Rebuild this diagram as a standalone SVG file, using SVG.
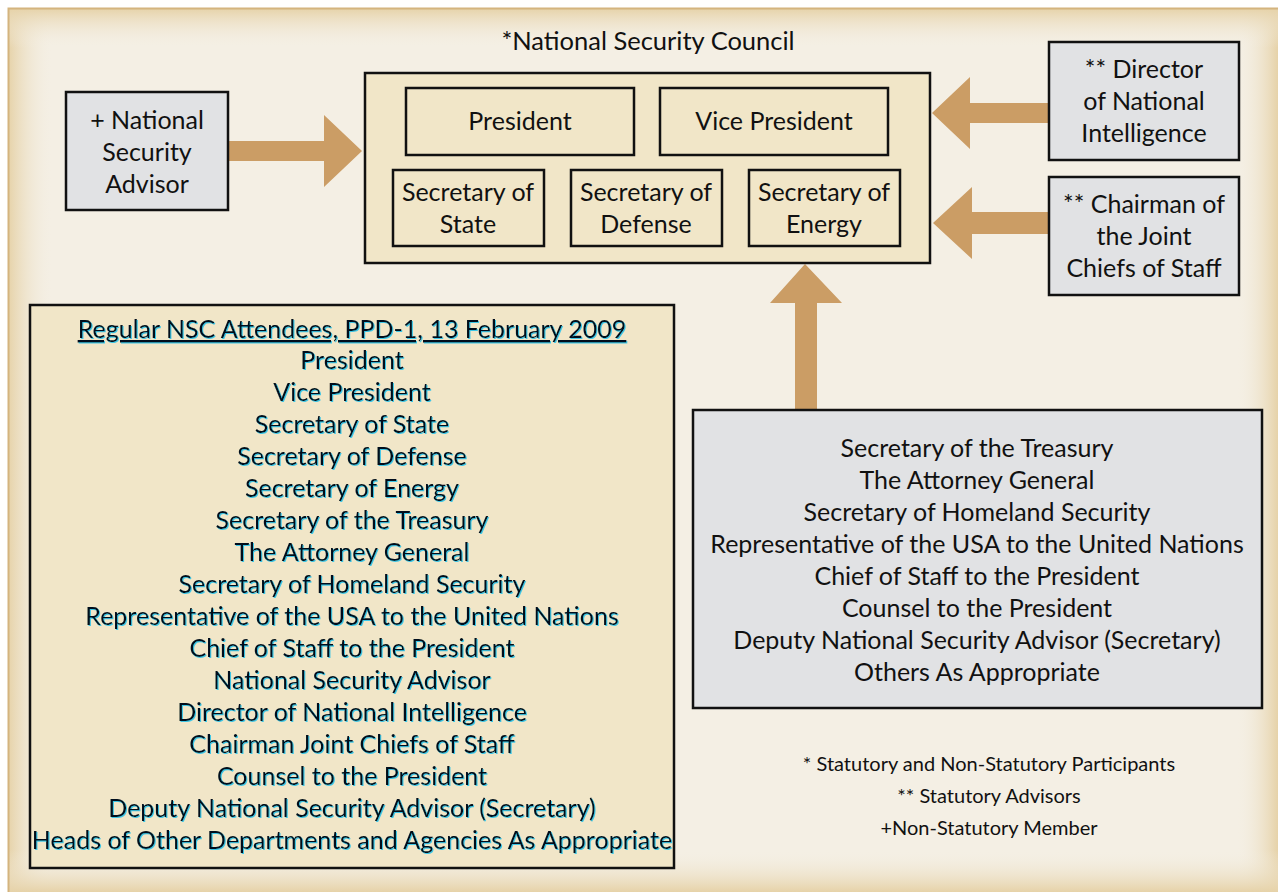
<svg xmlns="http://www.w3.org/2000/svg" width="1278" height="892" viewBox="0 0 1278 892">
<style>
text{font-family:Lato,"Open Sans","Liberation Sans",sans-serif;fill:#111;text-anchor:middle}
.t{font-size:25px}
.h{font-size:25.5px}
.f{font-size:20px}
.l{font-size:25px;fill:#04101a;filter:url(#glow)}
.nsc{fill:#f1e6c8;stroke:#111;stroke-width:2.5}
.gray{fill:#e1e2e4;stroke:#111;stroke-width:2.5}
.arrow{fill:#cb9d65}
</style>
<defs>
<filter id="glow" x="-5%" y="-30%" width="110%" height="160%">
<feDropShadow dx="1" dy="1" stdDeviation="0.3" flood-color="#3ec6e6" flood-opacity="1"/>
</filter>
<linearGradient id="gl" x1="0" y1="0" x2="1" y2="0"><stop offset="0" stop-color="#e6d2a8"/><stop offset="1" stop-color="#f4efe4" stop-opacity="0"/></linearGradient>
<linearGradient id="gr" x1="1" y1="0" x2="0" y2="0"><stop offset="0" stop-color="#e6d2a8"/><stop offset="1" stop-color="#f4efe4" stop-opacity="0"/></linearGradient>
<linearGradient id="gt" x1="0" y1="0" x2="0" y2="1"><stop offset="0" stop-color="#e6d2a8"/><stop offset="1" stop-color="#f4efe4" stop-opacity="0"/></linearGradient>
<linearGradient id="gb" x1="0" y1="1" x2="0" y2="0"><stop offset="0" stop-color="#e6d2a8"/><stop offset="1" stop-color="#f4efe4" stop-opacity="0"/></linearGradient>
</defs>
<rect x="0" y="0" width="1278" height="892" fill="#ffffff"/>
<g id="background">
<rect x="8" y="8" width="1270" height="884" fill="#f4efe4"/>
<rect x="8" y="8" width="45" height="884" fill="url(#gl)"/>
<rect x="1236" y="8" width="42" height="884" fill="url(#gr)"/>
<rect x="8" y="8" width="1270" height="40" fill="url(#gt)"/>
<rect x="8" y="850" width="1270" height="42" fill="url(#gb)"/>
<path d="M8.5 892 V8.5 H1278" fill="none" stroke="#d4b47e" stroke-width="2"/>
</g>
<g id="connectors">
<polygon class="arrow" points="228,141 324,141 324,115 362,151 324,187 324,161 228,161"/>
<polygon class="arrow" points="1049,103 970,103 970,77 932,113 970,149 970,123 1049,123"/>
<polygon class="arrow" points="1049,212 972,212 972,187 933,223 972,259 972,234 1049,234"/>
<polygon class="arrow" points="795,410 795,303 770,303 805,264 842,303 817,303 817,410"/>
</g>
<g id="nsc">
<text class="h" x="648" y="50">*National Security Council</text>
<rect class="nsc" x="365" y="73" width="565" height="190"/>
</g>
<g id="president">
<rect class="nsc" x="406" y="88" width="228" height="67"/>
<text class="t" x="520" y="130">President</text>
</g>
<g id="vice-president">
<rect class="nsc" x="660" y="88" width="228" height="67"/>
<text class="t" x="774" y="130">Vice President</text>
</g>
<g id="sec-state">
<rect class="nsc" x="393" y="170" width="151" height="76"/>
<text class="t" x="468" y="201">Secretary of</text>
<text class="t" x="468" y="233">State</text>
</g>
<g id="sec-defense">
<rect class="nsc" x="571" y="170" width="151" height="76"/>
<text class="t" x="646" y="201">Secretary of</text>
<text class="t" x="646" y="233">Defense</text>
</g>
<g id="sec-energy">
<rect class="nsc" x="749" y="170" width="151" height="76"/>
<text class="t" x="824" y="201">Secretary of</text>
<text class="t" x="824" y="233">Energy</text>
</g>
<g id="nsa">
<rect class="gray" x="66" y="92" width="162" height="118"/>
<text class="t" x="147" y="129">+ National</text>
<text class="t" x="147" y="161">Security</text>
<text class="t" x="147" y="193">Advisor</text>
</g>
<g id="dni">
<rect class="gray" x="1049" y="42" width="190" height="118"/>
<text class="t" x="1144" y="78">** Director</text>
<text class="t" x="1144" y="110">of National</text>
<text class="t" x="1144" y="142">Intelligence</text>
</g>
<g id="cjcs">
<rect class="gray" x="1049" y="177" width="190" height="118"/>
<text class="t" x="1144" y="213">** Chairman of</text>
<text class="t" x="1144" y="245">the Joint</text>
<text class="t" x="1144" y="277">Chiefs of Staff</text>
</g>
<g id="others">
<rect class="gray" x="693" y="410" width="569" height="298"/>
<text class="t" x="977" y="457">Secretary of the Treasury</text>
<text class="t" x="977" y="489">The Attorney General</text>
<text class="t" x="977" y="521">Secretary of Homeland Security</text>
<text class="t" x="977" y="553">Representative of the USA to the United Nations</text>
<text class="t" x="977" y="585">Chief of Staff to the President</text>
<text class="t" x="977" y="617">Counsel to the President</text>
<text class="t" x="977" y="649">Deputy National Security Advisor (Secretary)</text>
<text class="t" x="977" y="681">Others As Appropriate</text>
</g>
<g id="attendees">
<rect class="nsc" x="30" y="305" width="644" height="563"/>
<text class="l" x="352" y="338" text-decoration="underline">Regular NSC Attendees, PPD-1, 13 February 2009</text>
<text class="l" x="352" y="369">President</text>
<text class="l" x="352" y="401">Vice President</text>
<text class="l" x="352" y="433">Secretary of State</text>
<text class="l" x="352" y="465">Secretary of Defense</text>
<text class="l" x="352" y="497">Secretary of Energy</text>
<text class="l" x="352" y="529">Secretary of the Treasury</text>
<text class="l" x="352" y="561">The Attorney General</text>
<text class="l" x="352" y="593">Secretary of Homeland Security</text>
<text class="l" x="352" y="625">Representative of the USA to the United Nations</text>
<text class="l" x="352" y="657">Chief of Staff to the President</text>
<text class="l" x="352" y="689">National Security Advisor</text>
<text class="l" x="352" y="721">Director of National Intelligence</text>
<text class="l" x="352" y="753">Chairman Joint Chiefs of Staff</text>
<text class="l" x="352" y="785">Counsel to the President</text>
<text class="l" x="352" y="817">Deputy National Security Advisor (Secretary)</text>
<text class="l" x="352" y="849">Heads of Other Departments and Agencies As Appropriate</text>
</g>
<g id="legend">
<text class="f" x="989" y="771">* Statutory and Non-Statutory Participants</text>
<text class="f" x="989" y="803">** Statutory Advisors</text>
<text class="f" x="989" y="835">+Non-Statutory Member</text>
</g>
</svg>
